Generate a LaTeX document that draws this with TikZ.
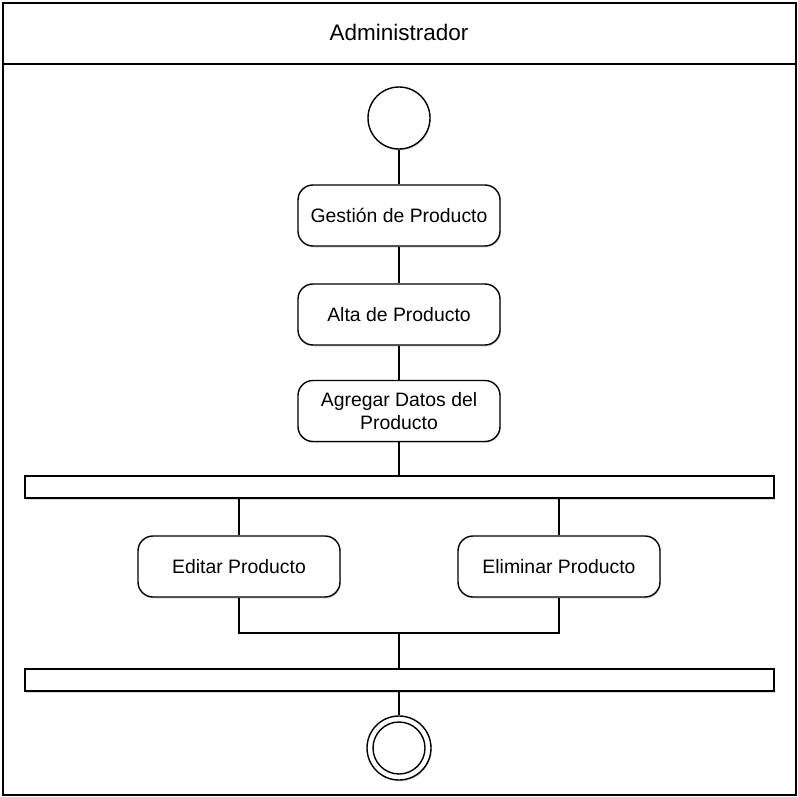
\documentclass[tikz,border=0pt]{standalone}
\usepackage{fontspec}
\setmainfont{Liberation Sans}
\usetikzlibrary{shadows}
\begin{document}
\begin{tikzpicture}[x=1pt,y=-1pt,
  line width=1.4pt,
  soft shadow/.style={drop shadow={shadow xshift=0.8pt,shadow yshift=-1.5pt,fill=blue!15!gray,opacity=0.25}},
  action/.style={draw, rounded corners=15pt, minimum width=202pt, minimum height=61pt,
    fill=white, align=center, font=\fontsize{19.4}{23.5}\selectfont, soft shadow},
  bar/.style={draw, fill=white, minimum width=749pt, minimum height=22pt, soft shadow},
  startnode/.style={draw, circle, minimum size=62pt, fill=white, soft shadow},
  flow/.style={draw, line width=1.4pt}]
\useasboundingbox (0,0) rectangle (798,797);
% swimlane frame with header
\draw (3,3) rectangle (796,795);
\draw (3,64) -- (796,64);
\node[font=\fontsize{22.5}{26}\selectfont] (lane) at (399,32) {Administrador};
% nodes
\node[startnode] (start) at (399,118) {};
\node[action] (gest) at (399,215.5) {Gestión de Producto};
\node[action] (alta) at (399,314.5) {Alta de Producto};
\node[action] (agr) at (399,411) {Agregar Datos del\\Producto};
\node[bar] (fork) at (399.5,487) {};
\node[action] (edit) at (239,566.5) {Editar Producto};
\node[action] (elim) at (559,566.5) {Eliminar Producto};
\coordinate (joinpt) at (399,633);
\node[bar] (join) at (399.5,680) {};
\node[draw, circle, minimum size=64pt, fill=white, soft shadow] (final) at (399,748) {};
\node[draw, circle, minimum size=52pt, line width=1.4pt] (finalin) at (399,748) {};
% connectors
\draw[flow] (start) -- (gest);
\draw[flow] (gest) -- (alta);
\draw[flow] (alta) -- (agr);
\draw[flow] (agr) -- (agr |- fork.north);
\draw[flow] (edit |- fork.south) -- (edit);
\draw[flow] (elim |- fork.south) -- (elim);
\draw[flow] (edit.south) |- (joinpt) -| (elim.south);
\draw[flow] (joinpt) -- (joinpt |- join.north);
\draw[flow] (final |- join.south) -- (final);
\end{tikzpicture}
\end{document}
